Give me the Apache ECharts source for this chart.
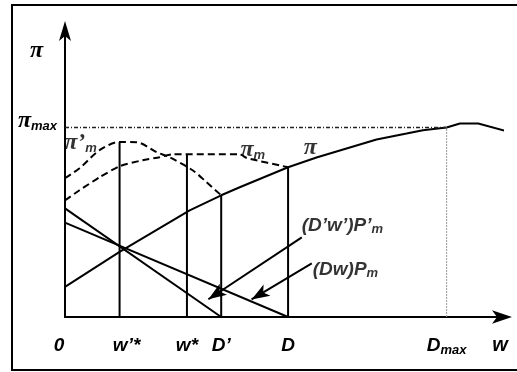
<!DOCTYPE html>
<html>
<head>
<meta charset="utf-8">
<script src="https://cdn.jsdelivr.net/npm/echarts@6/dist/echarts.min.js"></script>
<style>
html, body { margin: 0; padding: 0; background: #fff; overflow: hidden; }
#chart { position: absolute; left: 0; top: 0; width: 517px; height: 372px; }
.frame { position: absolute; left: 11px; top: 4px; width: 530px; height: 363px; border: 2px solid #000; pointer-events: none; }
</style>
</head>
<body>
<div id="chart"></div>
<div class="frame"></div>
<script>
// key points on the w axis
const wPrimeStar = 12.46
const wStar = 27.84
const dPrime = 35.66
const dFull = 50.93
const dMax = 87.13
const piMax = 66.04

// pi curve (solid)
const piX = [0, 12.46, 28.46, 35.66, 39.89, 50.93, 57.42, 64.27, 71.13, 77.99, 81.71, 87.13, 90.17, 94.35, 102.29]
const piY = [10.47, 22.69, 37.17, 42.41, 45.2, 52.18, 55.57, 58.71, 61.85, 63.94, 65.1, 66.04, 67.43, 67.43, 64.15]

// pi'_m curve (dashed)
const pimPrimeX = [0, 3.31, 7.89, 12.46, 16.34, 20.91, 23.89, 29.14, 32.34, 35.66]
const pimPrimeY = [48.34, 51.83, 58.12, 61.01, 60.91, 57.42, 55.67, 51.13, 46.94, 42.41]

// pi_m curve (dashed)
const pimX = [0, 3.31, 7.89, 12.46, 17.71, 21.6, 24.57, 39.89, 41.5, 50.93]
const pimY = [40.66, 44.15, 48.69, 52.53, 54.62, 55.67, 56.72, 56.72, 55.4, 52.18]

// straight lines (D'-w')P'm and (D-w)Pm
const lineAX = [0, dPrime]
const lineAY = [37.87, 0]
const lineBX = [0, dFull]
const lineBY = [32.88, 0]

// vertical drop lines
const dropX = [wPrimeStar, wStar, dPrime, dFull]
const dropTop = [61.01, 56.72, 42.41, 52.18]

// arrows pointing at the two straight lines
const arrowTip = [[32.74, 6.18], [42.6, 6.14]]
const arrowTail = [[54.06, 27.75], [56.34, 18.67]]

// axis ticks
const xTickValues = [0, wPrimeStar, wStar, dPrime, dFull, dMax]
const xTickLabels = ['{z|0}', '{wp|w’*}', '{t|w*}', '{t|D’}', '{t|D}', '{t|D}{s|max}']

// curve labels
const noteX = [3.54, 42.86, 56.0, 54.06, 56.57]
const noteY = [60.56, 58.12, 58.99, 31.94, 16.58]
const noteText = ['{p|π’}{s|m}', '{p|π}{s|m}', '{p|π}', '{t|(D’w’)P’}{s|m}', '{t|(Dw)P}{s|m}']
const noteAlign = ['center', 'center', 'center', 'left', 'left']

const pts = (xs, ys) => xs.map((x, i) => [x, ys[i]])

const sans = 'Liberation Sans'
const serif = 'Liberation Serif'
const rich = {
  t: { fontFamily: sans, fontStyle: 'italic', fontWeight: 'bold', fontSize: 19, lineHeight: 22, color: '#000' },
  z: { fontFamily: sans, fontStyle: 'italic', fontWeight: 'bold', fontSize: 19, lineHeight: 22, color: '#000', padding: [0, 12, 0, 0] },
  wp: { fontFamily: sans, fontStyle: 'italic', fontWeight: 'bold', fontSize: 19, lineHeight: 22, color: '#000', padding: [0, 0, 0, 14] },
  s: { fontFamily: sans, fontStyle: 'italic', fontWeight: 'bold', fontSize: 13, lineHeight: 12, verticalAlign: 'bottom', color: '#000' },
  p: { fontFamily: serif, fontStyle: 'italic', fontWeight: 'bold', fontSize: 24, lineHeight: 24, color: '#000' },
  w: { fontFamily: sans, fontStyle: 'italic', fontWeight: 'bold', fontSize: 20, lineHeight: 22, color: '#000', padding: [57, 0, 0, 0] },
}

const black = { color: '#000', width: 2 }
const chart = echarts.init(document.getElementById('chart'))

const drops = dropX.map((x, i) => ({
  type: 'line',
  data: [[x, 0], [x, dropTop[i]]],
  symbol: 'none',
  lineStyle: black,
  silent: true,
}))

const arrowLine = (i) => ({
  silent: true,
  symbol: ['arrow', 'none'],
  symbolSize: [10, 18],
  label: { show: false },
  lineStyle: { color: '#000', width: 2, type: 'solid' },
  data: [[{ coord: arrowTip[i] }, { coord: arrowTail[i] }]],
})

chart.setOption({
  animation: false,
  grid: { left: 65, right: 14, top: 30, bottom: 55, containLabel: false, outerBoundsMode: 'none' },
  xAxis: {
    type: 'value', min: 0, max: 100,
    name: '{w|w}',
    nameLocation: 'end',
    nameGap: -3,
    nameTextStyle: { align: 'center', verticalAlign: 'middle', rich },
    axisLine: { show: true, onZero: false, symbol: ['none', 'arrow'], symbolSize: [10, 20], symbolOffset: [0, 9], lineStyle: black },
    axisTick: { show: false },
    splitLine: { show: false },
    axisLabel: {
      customValues: xTickValues,
      margin: 18,
      formatter: (v) => xTickLabels[xTickValues.indexOf(v)] || '',
      rich,
    },
  },
  yAxis: {
    type: 'value', min: 0, max: 100,
    name: 'π',
    nameLocation: 'end',
    nameGap: -21,
    nameTextStyle: { fontFamily: serif, fontStyle: 'italic', fontWeight: 'bold', fontSize: 24, color: '#000', align: 'center', verticalAlign: 'middle', padding: [0, 57, 0, 0] },
    axisLine: { show: true, onZero: false, symbol: ['none', 'arrow'], symbolSize: [9, 20], symbolOffset: [0, 9], lineStyle: black },
    axisTick: { show: false },
    splitLine: { show: false },
    axisLabel: {
      customValues: [piMax],
      margin: 8,
      formatter: () => '{p|π}{s|max}',
      padding: [0, 0, 14, 0],
      rich,
    },
  },
  series: [
    {
      name: 'pi', type: 'line', data: pts(piX, piY), symbol: 'none', clip: false,
      lineStyle: black, silent: true,
    },
    {
      name: 'pimPrime', type: 'line', data: pts(pimPrimeX, pimPrimeY), symbol: 'none', smooth: 0.3,
      lineStyle: { color: '#000', width: 2, type: [7, 4] }, silent: true,
    },
    {
      name: 'pim', type: 'line', data: pts(pimX, pimY), symbol: 'none', smooth: 0.2,
      lineStyle: { color: '#000', width: 2, type: [7, 4] }, silent: true,
    },
    {
      name: 'lineA', type: 'line', data: pts(lineAX, lineAY), symbol: 'none',
      lineStyle: black, silent: true, markLine: arrowLine(0),
    },
    {
      name: 'lineB', type: 'line', data: pts(lineBX, lineBY), symbol: 'none',
      lineStyle: black, silent: true, markLine: arrowLine(1),
    },
    ...drops,
    {
      name: 'piMax', type: 'line', data: [[0, piMax], [dMax, piMax]], symbol: 'none',
      lineStyle: { color: '#222', width: 1.5, type: [4, 2, 1, 2] }, silent: true,
    },
    {
      name: 'dMax', type: 'line', data: [[dMax, 0], [dMax, piMax]], symbol: 'none',
      lineStyle: { color: '#999', width: 1, type: [2, 1] }, silent: true,
    },
    {
      name: 'notes', type: 'scatter', symbolSize: 0, silent: true,
      data: noteX.map((x, i) => ({
        value: [x, noteY[i]],
        label: {
          show: true,
          position: noteAlign[i] === 'left' ? 'right' : 'inside',
          distance: 0,
          formatter: noteText[i],
          rich,
        },
      })),
    },
  ],
})
</script>
</body>
</html>
